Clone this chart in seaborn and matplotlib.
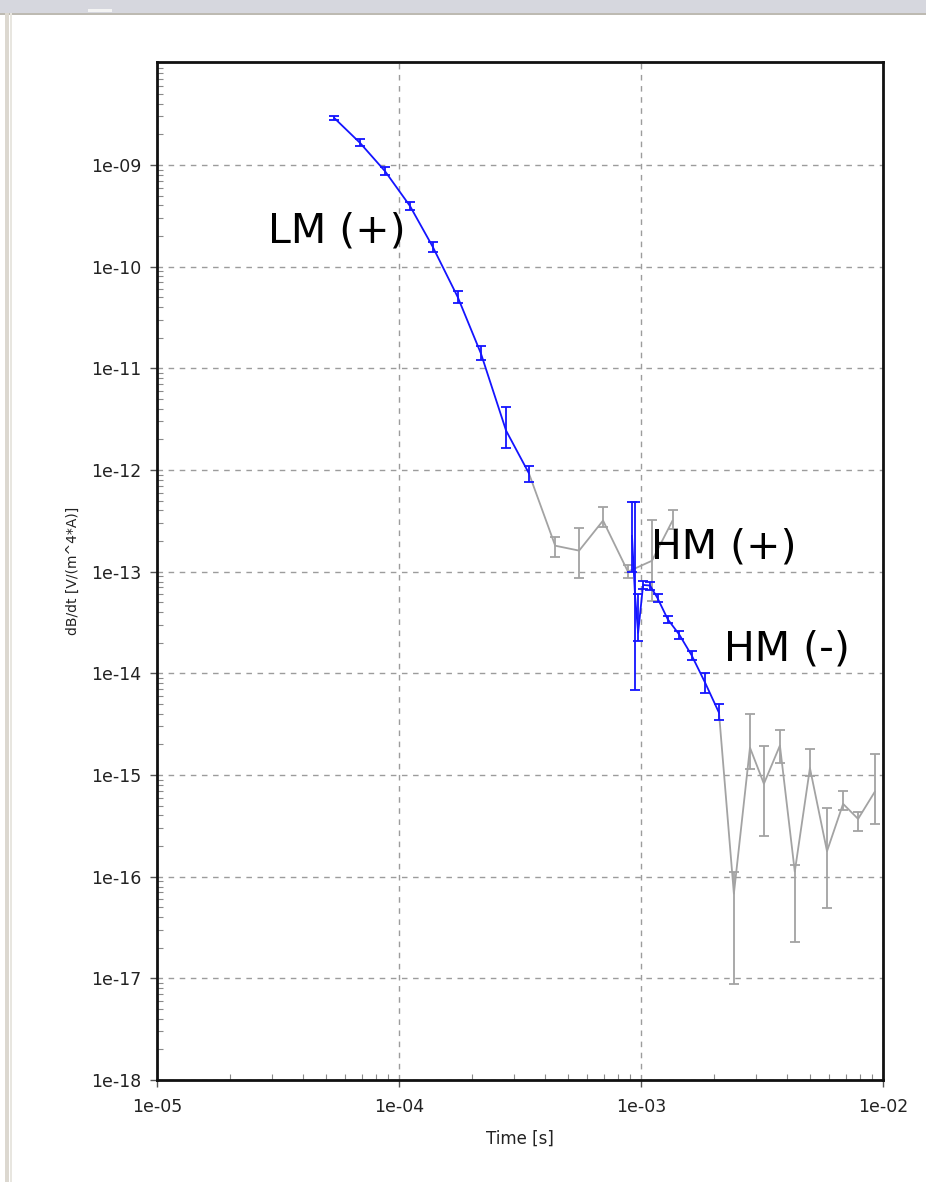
import numpy as np
import pandas as pd
import matplotlib
matplotlib.use("Agg")
import matplotlib.pyplot as plt
from matplotlib.patches import Rectangle
from matplotlib.ticker import FixedLocator, FuncFormatter, LogLocator, NullFormatter
import seaborn as sns

# LM (+) branch, blue
lm_t = [5.4e-5, 6.9e-5, 8.75e-5, 1.11e-4, 1.38e-4, 1.75e-4, 2.18e-4, 2.77e-4, 3.44e-4]
lm_v = [2.9e-9, 1.65e-9, 8.7e-10, 3.95e-10, 1.56e-10, 5.0e-11, 1.4e-11, 2.44e-12, 9.3e-13]
lm_lo = [2.75e-9, 1.52e-9, 7.9e-10, 3.6e-10, 1.4e-10, 4.4e-11, 1.2e-11, 1.66e-12, 7.6e-13]
lm_hi = [3.05e-9, 1.8e-9, 9.6e-10, 4.35e-10, 1.76e-10, 5.7e-11, 1.65e-11, 4.2e-12, 1.1e-12]

# rejected gates between LM and HM, gray
mid_t = [3.44e-4, 4.42e-4, 5.55e-4, 6.97e-4, 8.83e-4, 1.11e-3, 1.35e-3]
mid_v = [9.3e-13, 1.8e-13, 1.61e-13, 3.18e-13, 1.0e-13, 1.28e-13, 3.18e-13]
mid_lo = [9.3e-13, 1.4e-13, 8.6e-14, 2.74e-13, 8.6e-14, 5.2e-14, 2.6e-13]
mid_hi = [9.3e-13, 2.2e-13, 2.7e-13, 4.3e-13, 1.15e-13, 3.2e-13, 4.0e-13]

# HM branch, blue
hm_t = [9.18e-4, 9.45e-4, 9.73e-4, 1.02e-3, 1.09e-3, 1.17e-3, 1.29e-3, 1.44e-3, 1.62e-3, 1.84e-3, 2.10e-3]
hm_v = [2.26e-13, 5.8e-14, 2.5e-14, 7.4e-14, 7.3e-14, 5.5e-14, 3.4e-14, 2.4e-14, 1.5e-14, 8.1e-15, 4.1e-15]
hm_lo = [1.0e-13, 6.8e-15, 2.1e-14, 6.7e-14, 6.6e-14, 5.0e-14, 3.1e-14, 2.2e-14, 1.35e-14, 6.4e-15, 3.5e-15]
hm_hi = [4.8e-13, 4.8e-13, 6.0e-14, 8.1e-14, 8.0e-14, 6.0e-14, 3.7e-14, 2.6e-14, 1.65e-14, 1.0e-14, 5.0e-15]

# late noisy gates, gray
late_t = [2.10e-3, 2.42e-3, 2.82e-3, 3.22e-3, 3.75e-3, 4.32e-3, 4.99e-3, 5.87e-3, 6.84e-3, 7.89e-3, 9.27e-3]
late_v = [4.1e-15, 6.8e-17, 1.86e-15, 8.2e-16, 1.95e-15, 1.12e-16, 1.17e-15, 1.78e-16, 5.2e-16, 3.7e-16, 6.9e-16]
late_lo = [4.1e-15, 8.7e-18, 1.15e-15, 2.5e-16, 1.3e-15, 2.3e-17, 9.8e-16, 4.9e-17, 4.5e-16, 2.8e-16, 3.3e-16]
late_hi = [4.1e-15, 1.1e-16, 4.0e-15, 1.95e-15, 2.8e-15, 1.3e-16, 1.8e-15, 4.7e-16, 6.9e-16, 4.3e-16, 1.6e-15]

x_ticks = [1e-5, 1e-4, 1e-3, 1e-2]
y_ticks = [1e-18, 1e-17, 1e-16, 1e-15, 1e-14, 1e-13, 1e-12, 1e-11, 1e-10, 1e-9]

BLUE = "#1414ff"
GRAY = "#a3a3a3"

sns.set_style("ticks")
plt.rcParams["font.family"] = ["DejaVu Sans"]

fig = plt.figure(figsize=(9.26, 11.82), dpi=100)
W, H = 926, 1182

# window frame bits
fig.patches.append(Rectangle((0, 1 - 13 / H), 1, 13 / H, transform=fig.transFigure,
                             facecolor="#d6d7de", edgecolor="none", zorder=0))
fig.patches.append(Rectangle((0, 1 - 15 / H), 1, 2 / H, transform=fig.transFigure,
                             facecolor="#bdbab2", edgecolor="none", zorder=0))
fig.patches.append(Rectangle((88 / W, 1 - 12 / H), 24 / W, 3 / H, transform=fig.transFigure,
                             facecolor="#f4f4f4", edgecolor="none", zorder=0))
fig.patches.append(Rectangle((5 / W, 0), 4 / W, 1 - 13 / H, transform=fig.transFigure,
                             facecolor="#dcd8d0", edgecolor="none", zorder=0))
fig.patches.append(Rectangle((10 / W, 0), 2 / W, 1 - 13 / H, transform=fig.transFigure,
                             facecolor="#e8e6e0", edgecolor="none", zorder=0))

ax = fig.add_axes([157 / W, 1 - 1080 / H, (883 - 157) / W, (1080 - 62) / H])
ax.set_xscale("log")
ax.set_yscale("log")


def draw_series(t, v, lo, hi, color, z, skip_first=False):
    df = pd.DataFrame({"t": t, "v": v, "lo": lo, "hi": hi})
    sns.lineplot(data=df, x="t", y="v", ax=ax, color=color, lw=1.3, sort=False,
                 estimator=None, zorder=z)
    e = df.iloc[1:] if skip_first else df
    ax.errorbar(e["t"], e["v"], yerr=[e["v"] - e["lo"], e["hi"] - e["v"]], fmt="none",
                ecolor=color, elinewidth=1.3, capsize=3.5, capthick=1.3, zorder=z)


draw_series(mid_t, mid_v, mid_lo, mid_hi, GRAY, 2, skip_first=True)
draw_series(late_t, late_v, late_lo, late_hi, GRAY, 2, skip_first=True)
draw_series(lm_t, lm_v, lm_lo, lm_hi, BLUE, 3)
draw_series(hm_t, hm_v, hm_lo, hm_hi, BLUE, 3)

ax.set_xlim(1e-5, 1e-2)
ax.set_ylim(1e-18, 1.03e-8)

ax.xaxis.set_major_locator(FixedLocator(x_ticks))
ax.yaxis.set_major_locator(FixedLocator(y_ticks))
ax.xaxis.set_minor_locator(LogLocator(base=10, subs=np.arange(2, 10)))
ax.yaxis.set_minor_locator(LogLocator(base=10, subs=np.arange(2, 10), numticks=30))
ax.xaxis.set_minor_formatter(NullFormatter())
ax.yaxis.set_minor_formatter(NullFormatter())
fmt = FuncFormatter(lambda v, p: "1e%03d" % int(round(np.log10(v))))
ax.xaxis.set_major_formatter(fmt)
ax.yaxis.set_major_formatter(fmt)

ax.tick_params(which="major", direction="out", length=5, width=1, color="#555555",
               labelsize=12.5, labelcolor="#222222")
ax.tick_params(axis="x", which="major", pad=8)
ax.tick_params(axis="y", which="major", pad=6)
ax.tick_params(which="minor", direction="in", length=4, width=0.8, color="#8a8a8a")

ax.grid(which="major", linestyle=(0, (4, 4)), color="#9c9c9c", linewidth=1)
ax.grid(which="minor", visible=False)
for s in ax.spines.values():
    s.set_visible(True)
    s.set_color("#111111")
    s.set_linewidth(2)

ax.set_xlabel("Time [s]", fontsize=12, color="#222222", labelpad=10)
ax.set_ylabel("dB/dt [V/(m^4*A)]", fontsize=10, color="#222222")
ax.yaxis.set_label_coords(-0.106, 0.5)

fig.text(268 / W, 1 - 243 / H, "LM (+)", fontsize=29.5, va="baseline", ha="left", color="black")
fig.text(651 / W, 1 - 558 / H, "HM (+)", fontsize=29.5, va="baseline", ha="left", color="black")
fig.text(724 / W, 1 - 661 / H, "HM (-)", fontsize=29.5, va="baseline", ha="left", color="black")

fig.savefig("out.png", dpi=100, facecolor="white")
